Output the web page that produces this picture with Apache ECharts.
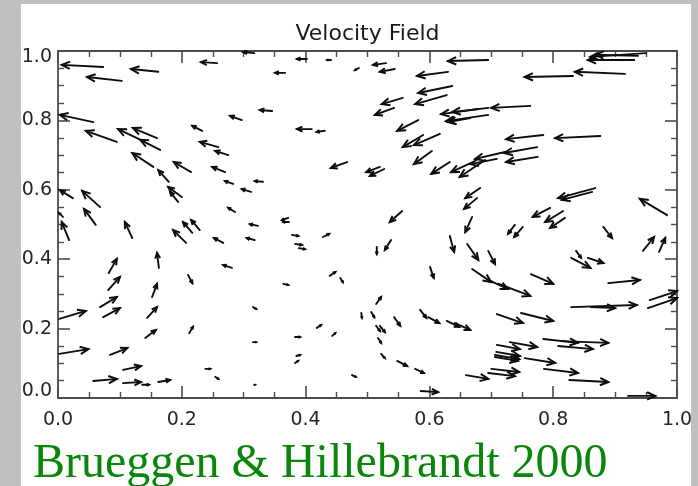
<!DOCTYPE html>
<html>
<head>
<meta charset="utf-8">
<title>Velocity Field</title>
<script src="https://cdn.jsdelivr.net/npm/echarts@6/dist/echarts.min.js"></script>
<style>
  html, body { margin: 0; padding: 0; background: #c0c0c0; }
  #chart { width: 698px; height: 486px; }
</style>
</head>
<body>
<div id="chart"></div>
<script>
// Velocity vectors: tail position (xTail, yTail) and tip position (xTip, yTip), in plot units.
const xTail = [
  0.073, 0.162, 0.103, 0.257, 0.346, 0.057, 0.095, 0.137, 0.160, 0.165,
  0.154, 0.215, 0.179, 0.200, 0.194, 0.024, 0.068, 0.061, 0.233, 0.259,
  0.275, 0.270, 0.297, 0.283, 0.312, 0.331, 0.286, 0.317, 0.402, 0.441,
  0.367, 0.486, 0.530, 0.544, 0.410, 0.431, 0.467, 0.520, 0.527, 0.372,
  0.373, 0.556, 0.557, 0.543, 0.630, 0.695, 0.637, 0.628, 0.679, 0.695,
  0.763, 0.695, 0.666, 0.582, 0.590, 0.617, 0.604, 0.633, 0.670, 0.690,
  0.722, 0.709, 0.784, 0.876, 0.774, 0.775, 0.931, 0.950, 0.937, 0.832,
  0.916, 0.868, 0.863, 0.984, 0.795, 0.816, 0.819, 0.682, 0.677, 0.669,
  0.018, 0.120, 0.207, 0.217, 0.229, 0.267, 0.323, 0.318, 0.281, 0.082,
  0.163, 0.081, 0.152, 0.210, 0.068, 0.073, 0.002, 0.144, 0.141, 0.212,
  0.002, 0.084, 0.105, 0.238, 0.254, 0.315, 0.315, 0.317, 0.057, 0.105,
  0.136, 0.162, 0.378, 0.428, 0.383, 0.389, 0.515, 0.538, 0.633, 0.601,
  0.439, 0.456, 0.364, 0.514, 0.490, 0.506, 0.543, 0.514, 0.520, 0.517,
  0.522, 0.548, 0.577, 0.585, 0.598, 0.628, 0.641, 0.418, 0.443, 0.383,
  0.385, 0.383, 0.475, 0.659, 0.586, 0.738, 0.751, 0.881, 0.945, 0.971,
  0.661, 0.695, 0.669, 0.696, 0.712, 0.764, 0.837, 0.829, 0.856, 0.889,
  0.829, 0.861, 0.956, 0.953, 0.709, 0.748, 0.709, 0.730, 0.708, 0.706,
  0.706, 0.754, 0.784, 0.813, 0.808, 0.700, 0.695, 0.785, 0.826, 0.921,
  0.008
];
const yTail = [
  0.954, 0.940, 0.914, 0.965, 0.827, 0.795, 0.738, 0.741, 0.749, 0.715,
  0.666, 0.651, 0.623, 0.579, 0.565, 0.576, 0.550, 0.499, 0.770, 0.723,
  0.700, 0.651, 0.801, 0.617, 0.594, 0.623, 0.536, 0.994, 0.977, 0.974,
  0.937, 0.951, 0.965, 0.948, 0.775, 0.770, 0.680, 0.666, 0.660, 0.519,
  0.507, 0.539, 0.865, 0.836, 0.940, 0.974, 0.899, 0.873, 0.833, 0.836,
  0.842, 0.816, 0.807, 0.801, 0.758, 0.761, 0.712, 0.680, 0.680, 0.686,
  0.709, 0.689, 0.758, 0.755, 0.723, 0.695, 0.974, 0.994, 0.986, 0.928,
  0.934, 0.605, 0.594, 0.527, 0.548, 0.539, 0.519, 0.605, 0.576, 0.522,
  0.455, 0.461, 0.447, 0.476, 0.484, 0.447, 0.496, 0.455, 0.375, 0.360,
  0.375, 0.311, 0.291, 0.355, 0.262, 0.233, 0.228, 0.231, 0.173, 0.187,
  0.127, 0.124, 0.081, 0.084, 0.061, 0.161, 0.262, 0.038, 0.049, 0.043,
  0.038, 0.046, 0.470, 0.464, 0.444, 0.432, 0.435, 0.455, 0.467, 0.378,
  0.352, 0.346, 0.329, 0.271, 0.245, 0.248, 0.233, 0.208, 0.208, 0.173,
  0.127, 0.107, 0.084, 0.254, 0.233, 0.222, 0.216, 0.202, 0.179, 0.176,
  0.121, 0.101, 0.066, 0.066, 0.020, 0.499, 0.493, 0.493, 0.424, 0.421,
  0.444, 0.424, 0.372, 0.340, 0.329, 0.357, 0.424, 0.404, 0.404, 0.331,
  0.262, 0.262, 0.282, 0.259, 0.242, 0.245, 0.153, 0.161, 0.133, 0.124,
  0.118, 0.115, 0.170, 0.164, 0.150, 0.084, 0.072, 0.084, 0.052, 0.006,
  0.522
];
const xTip = [
  0.006, 0.118, 0.047, 0.231, 0.326, 0.003, 0.045, 0.097, 0.121, 0.133,
  0.120, 0.187, 0.162, 0.178, 0.181, 0.003, 0.039, 0.042, 0.217, 0.229,
  0.254, 0.249, 0.278, 0.270, 0.297, 0.318, 0.275, 0.299, 0.386, 0.435,
  0.351, 0.480, 0.509, 0.520, 0.386, 0.418, 0.441, 0.498, 0.504, 0.362,
  0.364, 0.536, 0.523, 0.512, 0.580, 0.630, 0.582, 0.577, 0.619, 0.637,
  0.700, 0.627, 0.630, 0.548, 0.557, 0.575, 0.575, 0.603, 0.635, 0.649,
  0.674, 0.666, 0.724, 0.803, 0.721, 0.724, 0.856, 0.860, 0.868, 0.754,
  0.835, 0.808, 0.814, 0.940, 0.767, 0.787, 0.795, 0.658, 0.656, 0.658,
  0.006, 0.108, 0.186, 0.202, 0.215, 0.252, 0.310, 0.305, 0.267, 0.095,
  0.160, 0.100, 0.160, 0.217, 0.095, 0.100, 0.045, 0.160, 0.158, 0.218,
  0.049, 0.112, 0.134, 0.246, 0.259, 0.320, 0.320, 0.318, 0.095, 0.134,
  0.147, 0.181, 0.388, 0.438, 0.394, 0.399, 0.515, 0.528, 0.640, 0.607,
  0.448, 0.460, 0.372, 0.522, 0.491, 0.511, 0.553, 0.520, 0.528, 0.522,
  0.528, 0.564, 0.591, 0.595, 0.616, 0.648, 0.666, 0.425, 0.448, 0.391,
  0.391, 0.388, 0.481, 0.695, 0.614, 0.727, 0.737, 0.895, 0.963, 0.981,
  0.679, 0.706, 0.700, 0.727, 0.763, 0.800, 0.845, 0.860, 0.881, 0.940,
  0.935, 0.900, 1.000, 1.000, 0.751, 0.800, 0.746, 0.774, 0.746, 0.745,
  0.743, 0.803, 0.840, 0.889, 0.864, 0.745, 0.738, 0.840, 0.889, 0.965,
  0.002
];
const yTip = [
  0.960, 0.948, 0.925, 0.968, 0.830, 0.816, 0.770, 0.775, 0.778, 0.744,
  0.706, 0.680, 0.657, 0.608, 0.594, 0.599, 0.597, 0.545, 0.784, 0.738,
  0.712, 0.666, 0.813, 0.625, 0.602, 0.625, 0.548, 0.997, 0.977, 0.974,
  0.937, 0.945, 0.960, 0.940, 0.775, 0.767, 0.663, 0.651, 0.640, 0.513,
  0.507, 0.507, 0.847, 0.816, 0.928, 0.971, 0.879, 0.847, 0.818, 0.824,
  0.836, 0.798, 0.795, 0.770, 0.723, 0.729, 0.674, 0.646, 0.651, 0.637,
  0.689, 0.674, 0.746, 0.749, 0.706, 0.680, 0.974, 0.983, 0.989, 0.925,
  0.940, 0.576, 0.571, 0.574, 0.522, 0.507, 0.490, 0.576, 0.545, 0.478,
  0.507, 0.507, 0.484, 0.507, 0.513, 0.461, 0.501, 0.461, 0.383, 0.401,
  0.418, 0.349, 0.329, 0.331, 0.291, 0.259, 0.251, 0.262, 0.196, 0.205,
  0.141, 0.144, 0.092, 0.084, 0.055, 0.161, 0.257, 0.038, 0.055, 0.046,
  0.038, 0.052, 0.467, 0.473, 0.441, 0.429, 0.415, 0.427, 0.421, 0.346,
  0.363, 0.334, 0.326, 0.291, 0.231, 0.233, 0.208, 0.193, 0.190, 0.159,
  0.115, 0.092, 0.072, 0.231, 0.216, 0.205, 0.196, 0.210, 0.187, 0.176,
  0.124, 0.107, 0.061, 0.055, 0.017, 0.473, 0.464, 0.461, 0.464, 0.461,
  0.398, 0.386, 0.334, 0.314, 0.294, 0.329, 0.404, 0.375, 0.389, 0.340,
  0.268, 0.259, 0.308, 0.288, 0.216, 0.222, 0.141, 0.147, 0.121, 0.112,
  0.107, 0.101, 0.159, 0.159, 0.141, 0.075, 0.063, 0.072, 0.046, 0.006,
  0.533
];

// Axis range and tick layout
const axisMin = 0;
const axisMax = 1;
const majorStep = 0.2;
const titleText = 'Velocity Field';
const creditText = 'Brueggen & Hillebrandt 2000';

const vectors = xTail.map((x, i) => [x, yTail[i], xTip[i], yTip[i]]);

const frameColor = '#4c4c4c';
const inkColor = '#0d0d0d';
const labelFont = 'DejaVu Sans';

function tickLabel(v) {
  return v.toFixed(1);
}

function frameAxis(position, showLabels, isY) {
  const axis = {
    type: 'value',
    position: position,
    min: axisMin,
    max: axisMax,
    interval: majorStep,
    axisLine: { show: true, onZero: false, lineStyle: { color: frameColor, width: 1.8 } },
    axisTick: { show: true, inside: true, length: 12, lineStyle: { color: frameColor, width: 1.6 } },
    minorTick: { show: true, splitNumber: 4, length: 6, lineStyle: { color: frameColor, width: 1.4 } },
    splitLine: { show: false },
    minorSplitLine: { show: false },
    axisLabel: { show: false }
  };
  if (showLabels) {
    axis.axisLabel = {
      show: true,
      color: '#262626',
      fontFamily: labelFont,
      fontSize: 19,
      margin: isY ? 6 : 13,
      formatter: isY
        ? function (v) {
            if (v === axisMax) return '{hi|' + tickLabel(v) + '}';
            if (v === axisMin) return '{lo|' + tickLabel(v) + '}';
            return tickLabel(v);
          }
        : tickLabel,
      rich: {
        hi: { fontFamily: labelFont, fontSize: 19, color: '#262626', padding: [13, 0, 0, 0] },
        lo: { fontFamily: labelFont, fontSize: 19, color: '#262626', padding: [0, 0, 13, 0] }
      }
    };
  }
  return axis;
}

function renderArrow(params, api) {
  const p0 = api.coord([api.value(0), api.value(1)]);
  const p1 = api.coord([api.value(2), api.value(3)]);
  const dx = p1[0] - p0[0];
  const dy = p1[1] - p0[1];
  const len = Math.hypot(dx, dy);
  const head = Math.min(len * 0.4, 9);
  const ang = Math.atan2(dy, dx);
  const spread = 0.42;
  const left = [p1[0] - head * Math.cos(ang - spread), p1[1] - head * Math.sin(ang - spread)];
  const right = [p1[0] - head * Math.cos(ang + spread), p1[1] - head * Math.sin(ang + spread)];
  return {
    type: 'group',
    children: [
      {
        type: 'line',
        shape: { x1: p0[0], y1: p0[1], x2: p1[0], y2: p1[1] },
        style: { stroke: inkColor, lineWidth: 1.9, lineCap: 'round' }
      },
      {
        type: 'polyline',
        shape: { points: [left, p1, right] },
        style: { stroke: inkColor, fill: null, lineWidth: 2, lineJoin: 'miter' }
      }
    ]
  };
}

const chart = echarts.init(document.getElementById('chart'), null, { renderer: 'canvas' });

chart.setOption({
  backgroundColor: '#c0c0c0',
  animation: false,
  grid: { left: 58, right: 21, top: 51, bottom: 88, containLabel: false },
  xAxis: [frameAxis('bottom', true, false), frameAxis('top', false, false)],
  yAxis: [frameAxis('left', true, true), frameAxis('right', false, true)],
  graphic: [
    {
      type: 'rect',
      z: -10,
      shape: { x: 21, y: 4, width: 670, height: 482 },
      style: { fill: '#ffffff' }
    },
    {
      type: 'text',
      x: 367.5,
      y: 34,
      style: {
        text: titleText,
        fill: '#1a1a1a',
        font: '22px "DejaVu Sans"',
        align: 'center',
        verticalAlign: 'middle'
      }
    },
    {
      type: 'text',
      x: 33,
      y: 464,
      style: {
        text: creditText,
        fill: '#0a860a',
        font: '48px "Liberation Serif"',
        align: 'left',
        verticalAlign: 'middle'
      }
    }
  ],
  series: [
    {
      type: 'custom',
      coordinateSystem: 'cartesian2d',
      xAxisIndex: 0,
      yAxisIndex: 0,
      clip: false,
      encode: { x: [0, 2], y: [1, 3] },
      data: vectors,
      renderItem: renderArrow
    }
  ]
});
</script>
</body>
</html>
